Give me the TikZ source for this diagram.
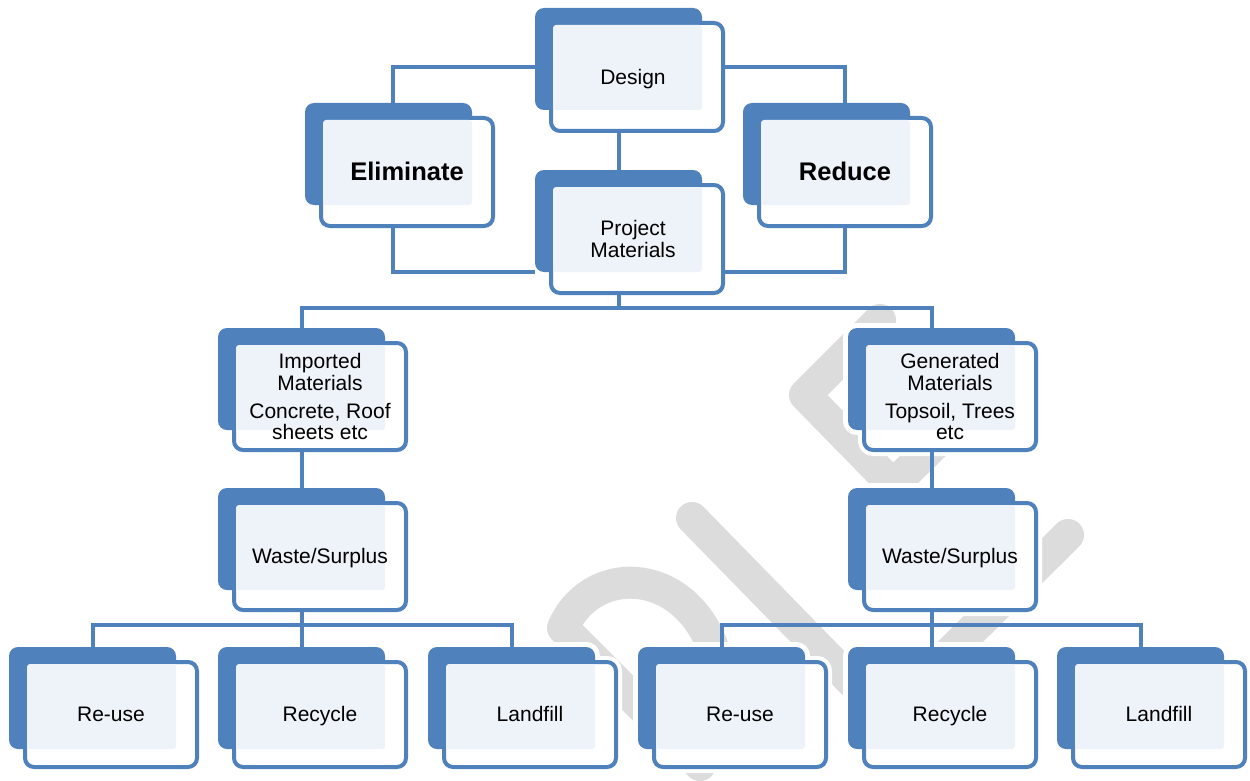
\documentclass[tikz,border=0pt]{standalone}
\usepackage{fontspec}
\setmainfont{Liberation Sans}
\usetikzlibrary{calc}
\definecolor{ob}{RGB}{79,129,189}
\definecolor{lf}{RGB}{238,242,249}
\definecolor{wm}{RGB}{220,220,220}
\pgfdeclarelayer{wmark}
\pgfdeclarelayer{halo}
\pgfdeclarelayer{conn}
\pgfsetlayers{wmark,halo,conn,main}
\tikzset{
 backbox/.style={rectangle, fill=ob, rounded corners=9pt, minimum width=167pt, minimum height=102pt, inner sep=0pt, outer sep=0pt},
 frontbox/.style={rectangle, fill=white, draw=ob, line width=4pt, rounded corners=9pt, minimum width=172pt, inner sep=0pt, outer sep=0pt},
 lbl/.style={align=center, font=\fontsize{21}{21}\selectfont, inner sep=0pt, yshift=-3pt},
 blbl/.style={lbl, font=\fontsize{25.5}{26}\selectfont\bfseries},
 conn/.style={draw=ob, line width=4pt},
 wmline/.style={draw=wm, line width=32pt, line cap=round, line join=round},
}
\newcommand\wbox[6]{%
 \node[backbox] (#1-b) at ({#2+83.5},{#3+51}) {};
 \node[frontbox, minimum height={#4-4}] (#1) at ({#2+14+88},{#3+13+#4/2}) {};
 \fill[lf, rounded corners=3pt] ({#2+18},{#3+17}) rectangle ({#2+167},{#3+102});
 \node[#5] (#1-t) at (#1.center) {\strut #6\strut};
 \begin{pgfonlayer}{halo}
  \draw[white, line width=10pt, rounded corners=9pt] (#1-b.north west) rectangle (#1-b.south east);
  \draw[white, line width=12pt, rounded corners=9pt] (#1.north west) rectangle (#1.south east);
 \end{pgfonlayer}
}
\begin{document}
\begin{tikzpicture}[x=1pt,y=-1pt]
\begin{pgfonlayer}{wmark}
 \fill[white] (0,0) rectangle (1250,772);
 \draw[wmline] (712,645) .. controls (680,565) and (590,565) .. (563,628) -- (700,765);
 \draw[wmline] (692,518) -- (860,690);
 \draw[wmline] (880,320) -- (805,395) -- (893,485) -- (965,415);
 \draw[wmline] (1068,535) -- (930,672);
\end{pgfonlayer}
\useasboundingbox (0,0) rectangle (1250,772);

\wbox{design}{535}{8}{112}{lbl,xshift=-4pt}{Design}
\wbox{elim}{305}{103}{112}{blbl}{Eliminate}
\wbox{reduce}{743}{103}{112}{blbl}{Reduce}
\wbox{pm}{535}{170}{112}{lbl,xshift=-4pt}{Project\\Materials}
\wbox{imp}{218}{328}{111}{lbl}{Imported\\Materials\\[7pt]Concrete, Roof\\sheets etc}
\wbox{wl}{218}{488}{111}{lbl}{Waste/Surplus}
\wbox{gen}{848}{328}{111}{lbl}{Generated\\Materials\\[7pt]Topsoil, Trees\\etc}
\wbox{wr}{848}{488}{111}{lbl}{Waste/Surplus}
\wbox{rul}{9}{647}{109}{lbl}{Re-use}
\wbox{rcl}{218}{647}{109}{lbl}{Recycle}
\wbox{lfl}{428}{647}{109}{lbl}{Landfill}
\wbox{rur}{638}{647}{109}{lbl}{Re-use}
\wbox{rcr}{848}{647}{109}{lbl}{Recycle}
\wbox{lfr}{1057}{647}{109}{lbl}{Landfill}

\begin{pgfonlayer}{conn}
 \draw[conn] ([yshift=-8pt]design-b.west) -| ([xshift=4.5pt]elim-b.north);
 \draw[conn] ($(elim.south)+(-14,0)$) |- (pm-b.south west);
 \draw[conn] ([yshift=10pt]design.east) -| (reduce.north |- reduce-b.north);
 \draw[conn] (reduce.south) |- (pm.east |- pm-b.south);
 \draw[conn] (design-b.south |- design.south) -- (pm-b.north);
 \coordinate (pmj) at ($(pm-b.south |- pm.south)+(0,15)$);
 \draw[conn] (pm-b.south |- pm.south) -- (pmj);
 \draw[conn] (imp-b.north) |- (pmj) -| (gen-b.north);
 \draw[conn] (imp-b.south |- imp.south) -- (wl-b.north);
 \draw[conn] (gen-b.south |- gen.south) -- (wr-b.north);
 \coordinate (wlj) at ($(wl-b.south |- wl.south)+(0,15)$);
 \draw[conn] (wl-b.south |- wl.south) -- (wlj);
 \draw[conn] (rul-b.north) |- (wlj) -| (lfl-b.north);
 \draw[conn] (wlj) -- (rcl-b.north);
 \coordinate (wrj) at ($(wr-b.south |- wr.south)+(0,15)$);
 \draw[conn] (wr-b.south |- wr.south) -- (wrj);
 \draw[conn] (rur-b.north) |- (wrj) -| (lfr-b.north);
 \draw[conn] (wrj) -- (rcr-b.north);
\end{pgfonlayer}
\end{tikzpicture}
\end{document}
